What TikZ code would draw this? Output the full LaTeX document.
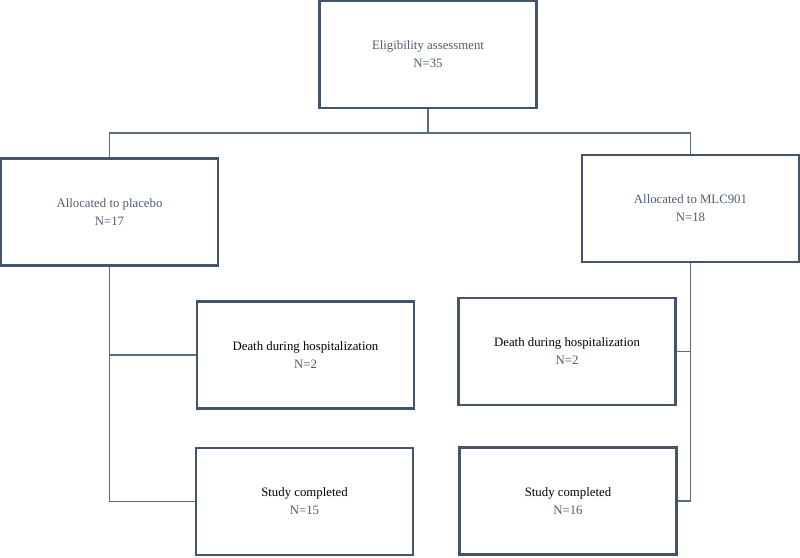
\documentclass[tikz,border=0pt]{standalone}
\usepackage{fontspec}
\setmainfont{Liberation Serif}
\definecolor{boxline}{HTML}{44546A}
\definecolor{conline}{HTML}{5B6B80}
\definecolor{bluetext}{HTML}{4F5E73}
\begin{document}
\begin{tikzpicture}[x=1pt,y=-1pt,
  box/.style={draw=boxline,line width=2.4pt,fill=white,minimum width=217pt,minimum height=107pt,inner sep=0pt,align=center,font=\fontsize{12.8}{18}\selectfont},
  conn/.style={draw=conline,line width=1.2pt}]
\useasboundingbox (0,0) rectangle (800,557);
\node[box,text=bluetext] (top) at (428,54.5) {Eligibility assessment\\N=35};
\node[box,text=bluetext] (alloc1) at (109.5,212) {Allocated to placebo\\N=17};
\node[box,text=bluetext] (alloc2) at (690.5,208.5) {Allocated to MLC901\\N=18};
\node[box] (death1) at (305.5,355) {Death during hospitalization\\\textcolor{bluetext}{N=2}};
\node[box] (study1) at (304.5,501.5) {Study completed\\\textcolor{bluetext}{N=15}};
\node[box] (death2) at (567,351.5) {Death during hospitalization\\\textcolor{bluetext}{N=2}};
\node[box] (study2) at (568,501) {Study completed\\\textcolor{bluetext}{N=16}};
\coordinate (split) at (428,133);
\draw[conn] (top.south) -- (split) -| (alloc1.north);
\draw[conn] (split) -| (alloc2.north);
\draw[conn] (alloc1.south) |- (death1.west);
\draw[conn] (alloc1.south) |- (study1.west);
\draw[conn] (alloc2.south) |- (death2.east);
\draw[conn] (alloc2.south) |- (study2.east);
\end{tikzpicture}
\end{document}
